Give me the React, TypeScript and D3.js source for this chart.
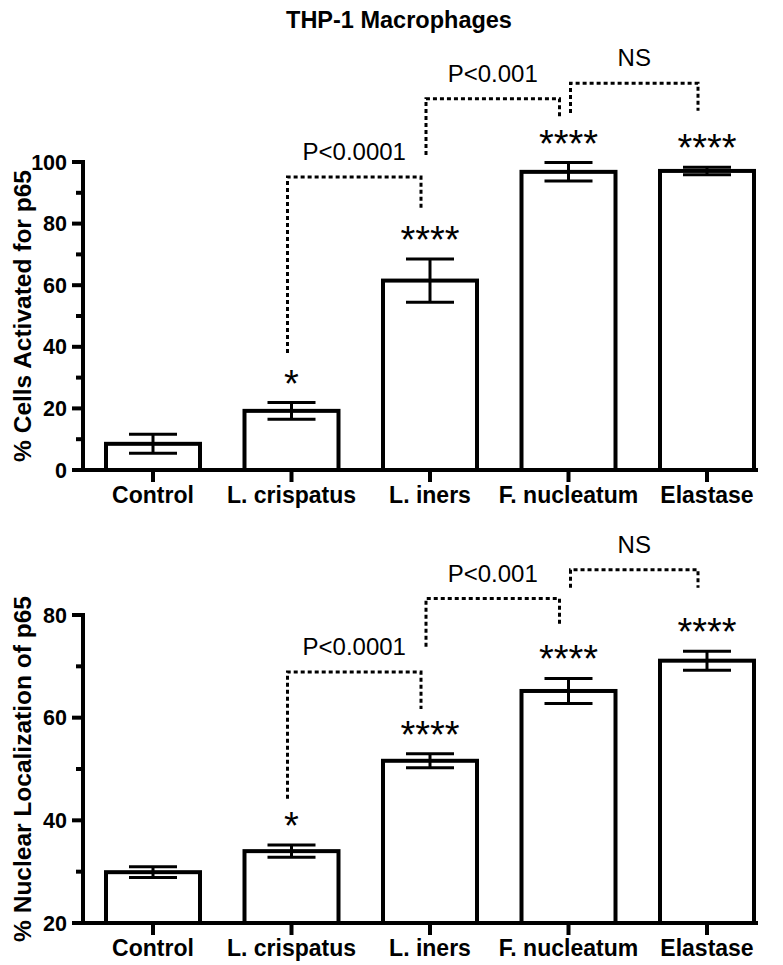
import React from 'react';
import * as d3 from 'd3';

// data
const categories = ['Control', 'L. crispatus', 'L. iners', 'F. nucleatum', 'Elastase'];

const activatedMean = [8.5, 19.2, 61.5, 96.8, 97.1];
const activatedSem = [3.1, 2.7, 7.0, 3.0, 1.2];
const activatedStars = ['', '*', '****', '****', '****'];
const activatedTicks = [0, 20, 40, 60, 80, 100];
const activatedMinor = [10, 30, 50, 70, 90];
const activatedBrackets = [
  { label: 'P<0.0001', from: 'L. crispatus', to: 'L. iners', level: 95.1, fromEnd: 38, toEnd: 85 },
  { label: 'P<0.001', from: 'L. iners', to: 'F. nucleatum', level: 120.5, fromEnd: 102.3, toEnd: 114.6 },
  { label: 'NS', from: 'F. nucleatum', to: 'Elastase', level: 125.6, fromEnd: 115.9, toEnd: 116.6 },
];

const nuclearMean = [29.9, 34.0, 51.6, 65.2, 71.1];
const nuclearSem = [1.05, 1.2, 1.35, 2.45, 1.85];
const nuclearStars = ['', '*', '****', '****', '****'];
const nuclearTicks = [20, 40, 60, 80];
const nuclearMinor = [30, 50, 70];
const nuclearBrackets = [
  { label: 'P<0.0001', from: 'L. crispatus', to: 'L. iners', level: 68.9, fromEnd: 44.2, toEnd: 61.7 },
  { label: 'P<0.001', from: 'L. iners', to: 'F. nucleatum', level: 83.2, fromEnd: 73.8, toEnd: 77.7 },
  { label: 'NS', from: 'F. nucleatum', to: 'Elastase', level: 88.8, fromEnd: 85.3, toEnd: 85.3 },
];

const FONT = '"Liberation Sans", Arial, Helvetica, sans-serif';
const W = 783;
const H = 965;
const AXIS_X = 83;
const AXIS_END = 758;
const BAR_W = 94;
const CAP = 24;

const x = d3.scalePoint<string>().domain(categories).range([153, 707]);

type Bracket = { label: string; from: string; to: string; level: number; fromEnd: number; toEnd: number };

function Panel(props: {
  mean: number[];
  sem: number[];
  stars: string[];
  ticks: number[];
  minor: number[];
  brackets: Bracket[];
  domain: [number, number];
  bottom: number;
  top: number;
  yLabel: string;
}) {
  const { mean, sem, stars, ticks, minor, brackets, domain, bottom, top, yLabel } = props;
  const y = d3.scaleLinear().domain(domain).range([bottom, top]);

  return (
    <g>
      {/* y axis */}
      <line x1={AXIS_X} x2={AXIS_X} y1={top - 2} y2={bottom} stroke="#000" strokeWidth={4} />
      {ticks.map((t) => (
        <g key={'t' + t}>
          <line x1={AXIS_X - 11} x2={AXIS_X} y1={y(t)} y2={y(t)} stroke="#000" strokeWidth={4} />
          <text x={67} y={y(t) + 7.5} textAnchor="end" fontSize={21.5} fontWeight="bold" fontFamily={FONT}>
            {t}
          </text>
        </g>
      ))}
      {minor.map((t) => (
        <line key={'m' + t} x1={AXIS_X - 7} x2={AXIS_X} y1={y(t)} y2={y(t)} stroke="#000" strokeWidth={4} />
      ))}
      <text
        transform={`translate(31,${(top + bottom) / 2}) rotate(-90)`}
        textAnchor="middle"
        fontSize={24.5}
        fontWeight="bold"
        fontFamily={FONT}
      >
        {yLabel}
      </text>

      {/* bars */}
      {categories.map((c, i) => {
        const cx = x(c)!;
        const yt = y(mean[i]);
        const hi = y(mean[i] + sem[i]);
        const lo = y(mean[i] - sem[i]);
        return (
          <g key={c}>
            <rect x={cx - BAR_W / 2} y={yt} width={BAR_W} height={bottom - yt} fill="#fff" stroke="#000" strokeWidth={4} />
            <line x1={cx} x2={cx} y1={hi} y2={lo} stroke="#000" strokeWidth={3} />
            <line x1={cx - CAP} x2={cx + CAP} y1={hi} y2={hi} stroke="#000" strokeWidth={3} />
            <line x1={cx - CAP} x2={cx + CAP} y1={lo} y2={lo} stroke="#000" strokeWidth={3} />
            {stars[i] && (
              <text x={cx} y={hi - 6} textAnchor="middle" fontSize={38} fontFamily={FONT}>
                {stars[i]}
              </text>
            )}
            <line x1={cx} x2={cx} y1={bottom} y2={bottom + 12} stroke="#000" strokeWidth={4} />
            <text x={cx} y={bottom + 33} textAnchor="middle" fontSize={23} fontWeight="bold" fontFamily={FONT}>
              {c}
            </text>
          </g>
        );
      })}

      {/* x axis */}
      <line x1={AXIS_X - 2} x2={AXIS_END} y1={bottom} y2={bottom} stroke="#000" strokeWidth={4} />

      {/* significance brackets */}
      {brackets.map((b, k) => {
        // a bracket that starts where the previous one ended is nudged right
        const shared = k > 0 && brackets[k - 1].to === b.from;
        const x1 = x(b.from)! + (shared && k === brackets.length - 1 ? 2 : -4);
        const x2 = x(b.to)! - 9;
        const yl = y(b.level);
        const path = `M${x1},${y(b.fromEnd)}V${yl}H${x2}V${y(b.toEnd)}`;
        return (
          <g key={b.label}>
            <path d={path} fill="none" stroke="#000" strokeWidth={3} strokeDasharray="4,3" />
            <text x={(x1 + x2) / 2} y={yl - 17} textAnchor="middle" fontSize={24} fontFamily={FONT}>
              {b.label}
            </text>
          </g>
        );
      })}
    </g>
  );
}

export default function App() {
  return (
    <svg width={W} height={H} style={{ position: 'absolute', left: 0, top: 0, background: '#fff' }}>
      <rect width={W} height={H} fill="#fff" />
      <text x={399} y={28} textAnchor="middle" fontSize={23.5} fontWeight="bold" fontFamily={FONT}>
        THP-1 Macrophages
      </text>
      <Panel
        mean={activatedMean}
        sem={activatedSem}
        stars={activatedStars}
        ticks={activatedTicks}
        minor={activatedMinor}
        brackets={activatedBrackets}
        domain={[0, 100]}
        bottom={470}
        top={162}
        yLabel="% Cells Activated for p65"
      />
      <Panel
        mean={nuclearMean}
        sem={nuclearSem}
        stars={nuclearStars}
        ticks={nuclearTicks}
        minor={nuclearMinor}
        brackets={nuclearBrackets}
        domain={[20, 80]}
        bottom={923}
        top={615}
        yLabel="% Nuclear Localization of p65"
      />
    </svg>
  );
}
